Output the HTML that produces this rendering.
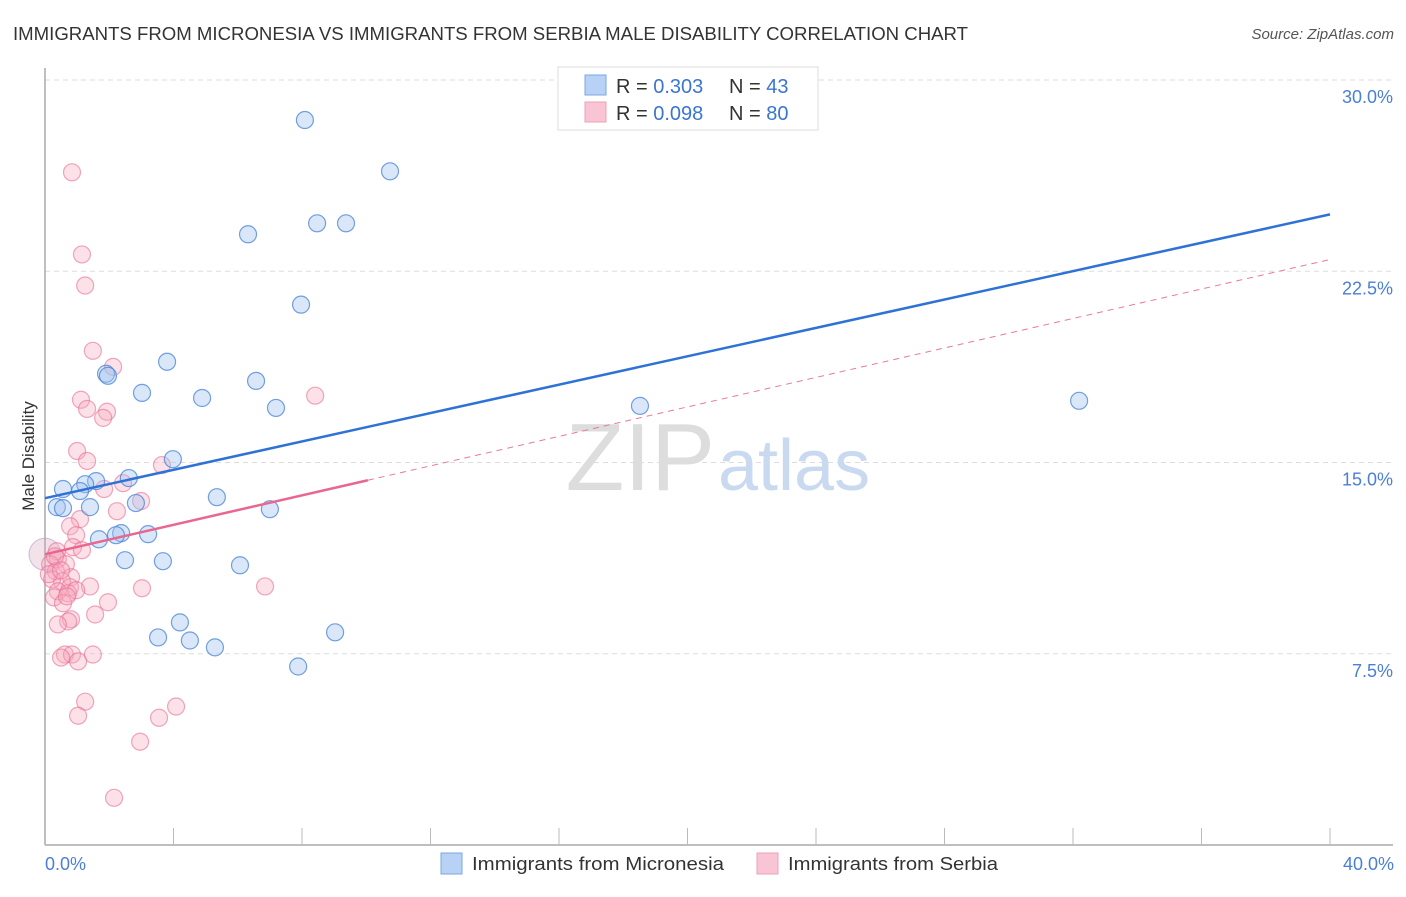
<!DOCTYPE html>
<html><head><meta charset="utf-8"><style>
body{margin:0;background:#fff;font-family:"Liberation Sans",sans-serif;}
svg text{font-family:"Liberation Sans",sans-serif;}
</style></head><body>
<svg id="chart" width="1406" height="892" viewBox="0 0 1406 892" xmlns="http://www.w3.org/2000/svg">
<text x="13" y="40" font-size="18" fill="#333" textLength="955" lengthAdjust="spacingAndGlyphs">IMMIGRANTS FROM MICRONESIA VS IMMIGRANTS FROM SERBIA MALE DISABILITY CORRELATION CHART</text>
<text x="1394" y="39" font-size="15" font-style="italic" fill="#555" text-anchor="end">Source: ZipAtlas.com</text>
<g id="grid"></g>
<text x="715" y="490" font-size="96" fill="#ddd" text-anchor="end" font-family="Liberation Serif">ZIP</text>
<text x="718" y="490" font-size="72" fill="#c9d9f0">atlas</text>
<line x1="45" y1="68" x2="45" y2="845" stroke="#aaa" stroke-width="1.5"/>
<line x1="45" y1="845" x2="1393" y2="845" stroke="#aaa" stroke-width="1.5"/>
<g id="xticks"></g>
<g id="ylabels"></g>
<text transform="translate(34,456) rotate(-90)" font-size="17" fill="#333" text-anchor="middle">Male Disability</text>
<text x="45" y="870" font-size="18" fill="#4a7fd6">0.0%</text>
<text x="1394" y="870" font-size="18" fill="#4a7fd6" text-anchor="end">40.0%</text>
<g id="points"></g>
<g id="trends"></g>
<g>
<rect x="558" y="67" width="260" height="63" fill="#fff" stroke="#ddd"/>
<rect x="585" y="75" width="21" height="20" fill="#b8d2f5" stroke="#7da7e4"/>
<rect x="585" y="102" width="21" height="20" fill="#f9c5d4" stroke="#eda0b8"/>
<text x="616" y="93" font-size="20" fill="#333">R = <tspan fill="#3a76d0">0.303</tspan></text>
<text x="729" y="93" font-size="20" fill="#333">N = <tspan fill="#3a76d0">43</tspan></text>
<text x="616" y="120" font-size="20" fill="#333">R = <tspan fill="#3a76d0">0.098</tspan></text>
<text x="729" y="120" font-size="20" fill="#333">N = <tspan fill="#3a76d0">80</tspan></text>
</g>
<g>
<rect x="441" y="853" width="21" height="21" fill="#b8d2f5" stroke="#7da7e4"/>
<text x="472" y="870" font-size="18" fill="#333" textLength="252" lengthAdjust="spacingAndGlyphs">Immigrants from Micronesia</text>
<rect x="757" y="853" width="21" height="21" fill="#f9c5d4" stroke="#eda0b8"/>
<text x="788" y="870" font-size="18" fill="#333" textLength="210" lengthAdjust="spacingAndGlyphs">Immigrants from Serbia</text>
</g>
</svg>
<script>
const yTicks=[7.5,15,22.5,30];
const yTickLabels=["7.5%","15.0%","22.5%","30.0%"];
const blueX=[8.09,10.74,6.32,8.47,9.37,7.97,3.80,1.90,1.96,3.02,4.89,6.57,7.19,18.52,32.19,3.98,2.61,1.59,1.25,0.56,1.09,5.35,2.83,0.37,0.56,1.40,7.00,2.37,3.21,2.21,1.68,2.49,3.67,6.07,3.52,4.20,4.51,5.29,9.03,7.88];
const blueY=[28.43,26.42,23.95,24.38,24.38,21.19,18.95,18.48,18.40,17.73,17.53,18.20,17.14,17.22,17.42,15.13,14.39,14.27,14.15,13.96,13.88,13.64,13.41,13.25,13.21,13.25,13.17,12.23,12.19,12.15,11.99,11.17,11.13,10.97,8.14,8.73,8.02,7.75,8.34,7.00];
const pinkX=[0.84,1.15,1.25,1.49,2.12,1.12,1.93,1.81,8.41,1.00,1.31,3.64,1.84,2.99,2.24,1.09,0.78,0.97,0.87,0.37,1.15,0.40,0.65,0.16,0.34,0.81,0.53,0.22,0.78,1.40,0.40,0.72,0.28,0.97,3.02,6.85,1.96,0.56,1.56,0.81,0.72,0.40,0.62,0.84,1.49,0.50,1.03,1.25,1.03,4.08,3.55,2.96,2.15,2.43,1.31,0.31,0.12,0.50,0.68];
const pinkY=[26.38,23.16,21.94,19.38,18.75,17.46,16.99,16.75,17.62,15.45,15.06,14.90,13.96,13.49,13.09,12.78,12.50,12.15,11.68,11.52,11.56,11.21,11.01,11.01,10.73,10.50,10.34,10.42,10.11,10.14,9.95,9.87,9.71,9.99,10.07,10.14,9.52,9.48,9.04,8.85,8.77,8.65,7.47,7.47,7.47,7.35,7.20,5.62,5.07,5.43,4.99,4.05,1.85,14.19,17.10,11.32,10.62,10.77,9.75];
const blueTrend=[13.60,24.73];
const pinkTrend=[11.40,22.96];
const pinkSolidEnd=10.05;
const NS="http://www.w3.org/2000/svg";
function sx(v){return 45+v/40*1285;}
function sy(v){return 845-v/30*765;}
function mk(tag,attrs,parent){const e=document.createElementNS(NS,tag);for(const k in attrs)e.setAttribute(k,attrs[k]);parent.appendChild(e);return e;}
const grid=document.getElementById('grid'),yl=document.getElementById('ylabels'),xt=document.getElementById('xticks');
yTicks.forEach((t,i)=>{
 const l=mk('line',{x1:45,x2:1393,y1:sy(t),y2:sy(t),stroke:'#ddd','stroke-dasharray':'5,4'},grid);
 
 
 const tx=mk('text',{x:1393,y:sy(t)+23,'font-size':18,fill:'#4a7fd6','text-anchor':'end'},yl);
 tx.textContent=yTickLabels[i];
 
 
});
for(let i=1;i<=10;i++){
 const l=mk('line',{x1:sx(i*4),x2:sx(i*4),y1:828,y2:845,stroke:'#bbb'},xt);
 
 
}
const pts=document.getElementById('points');
const big=mk('circle',{cx:sx(0),cy:sy(11.4),r:16,fill:'rgba(220,160,190,0.3)',stroke:'rgba(170,150,200,0.6)'},pts);


pinkX.forEach((x,i)=>{
 const c=mk('circle',{cx:sx(x),cy:sy(pinkY[i]),r:8.5,fill:'rgba(246,168,190,0.35)',stroke:'rgba(232,110,148,0.6)','stroke-width':1.2},pts);
 
 
});
blueX.forEach((x,i)=>{
 const c=mk('circle',{cx:sx(x),cy:sy(blueY[i]),r:8.5,fill:'rgba(160,195,240,0.4)',stroke:'rgba(70,130,215,0.75)','stroke-width':1.2},pts);
 
 
});
const tr=document.getElementById('trends');
const py=x=>pinkTrend[0]+(pinkTrend[1]-pinkTrend[0])*x/40;
const pd=mk('line',{x1:sx(pinkSolidEnd),y1:sy(py(pinkSolidEnd)),x2:sx(40),y2:sy(pinkTrend[1]),stroke:'#e8799a','stroke-width':1,'stroke-dasharray':'6,5'},tr);


const ps=mk('line',{x1:sx(0),y1:sy(pinkTrend[0]),x2:sx(pinkSolidEnd),y2:sy(py(pinkSolidEnd)),stroke:'#e8668f','stroke-width':2.5},tr);


const bl=mk('line',{x1:sx(0),y1:sy(blueTrend[0]),x2:sx(40),y2:sy(blueTrend[1]),stroke:'#2f72d6','stroke-width':2.5},tr);


</script>
</body></html>
